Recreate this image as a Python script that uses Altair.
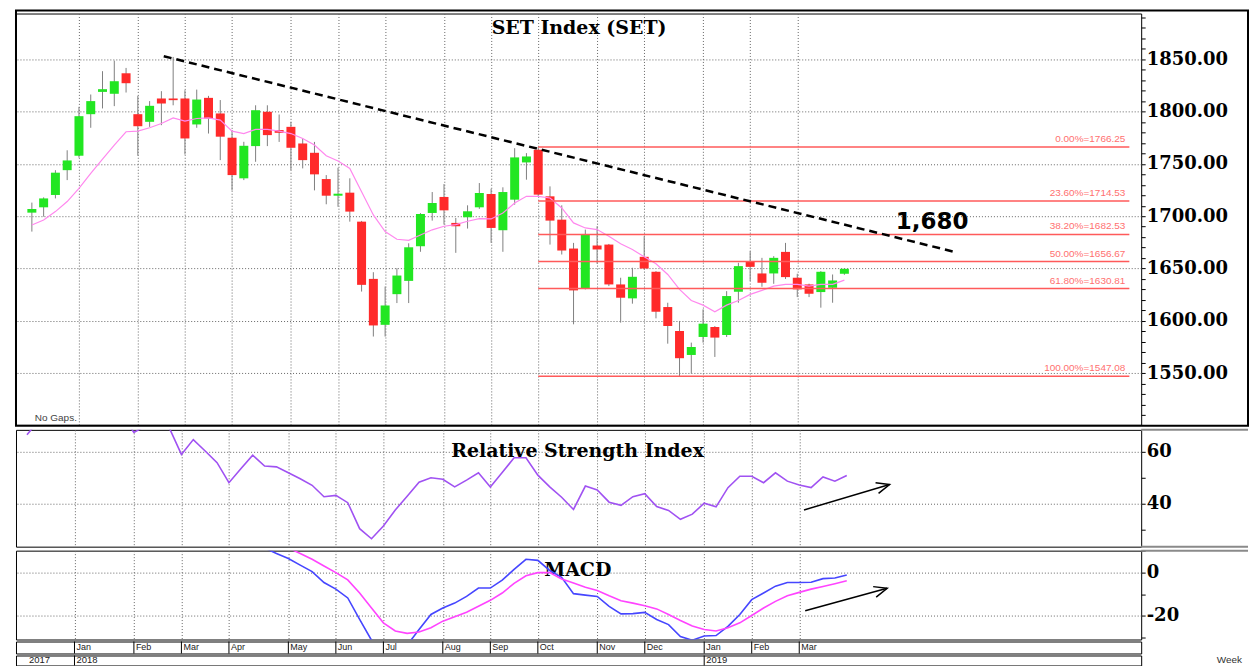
import altair as alt
import pandas as pd

# ---------------- data ----------------
weeks = list(range(1, 71))
opens = [1703.4, 1708.5, 1720.3, 1744.0, 1757.8, 1797.5, 1818.8, 1817.0, 1836.6, 1797.5,
         1790.2, 1812.5, 1812.5, 1812.5, 1787.7, 1813.1, 1798.2, 1775.0, 1736.2, 1767.0,
         1799.8, 1782.3, 1785.4, 1769.5, 1760.6, 1735.5, 1719.6, 1722.5, 1694.8, 1640.1,
         1596.2, 1625.5, 1638.2, 1671.3, 1703.1, 1718.4, 1693.6, 1699.0, 1708.5, 1721.2,
         1686.6, 1715.8, 1751.4, 1763.5, 1719.0, 1696.7, 1669.1, 1631.0, 1672.0, 1672.9,
         1634.8, 1621.5, 1661.2, 1646.9, 1613.2, 1590.3, 1567.4, 1584.6, 1594.1, 1586.5,
         1627.8, 1657.0, 1645.3, 1645.3, 1665.9, 1641.2, 1634.8, 1627.5, 1631.6, 1645.0]
highs = [1713.0, 1718.0, 1744.0, 1763.0, 1804.5, 1816.3, 1838.6, 1848.7, 1841.7, 1815.0,
         1810.0, 1819.5, 1852.2, 1820.4, 1821.0, 1815.0, 1811.0, 1782.3, 1771.1, 1806.0,
         1806.0, 1797.2, 1790.2, 1774.3, 1771.0, 1739.3, 1746.3, 1736.2, 1695.5, 1646.5,
         1632.8, 1650.3, 1674.1, 1703.0, 1723.1, 1730.7, 1698.3, 1710.4, 1731.7, 1726.3,
         1727.6, 1765.0, 1760.3, 1766.25, 1728.5, 1710.4, 1674.5, 1687.2, 1690.4, 1673.5,
         1641.2, 1650.7, 1680.9, 1647.5, 1617.3, 1599.9, 1579.2, 1611.0, 1595.0, 1628.4,
         1655.5, 1666.6, 1660.2, 1661.8, 1674.5, 1645.0, 1635.5, 1647.5, 1644.3, 1650.5]
lows = [1685.3, 1699.6, 1717.0, 1734.5, 1756.0, 1784.5, 1803.0, 1805.2, 1818.2, 1757.8,
        1785.4, 1787.0, 1806.0, 1759.0, 1784.5, 1779.0, 1753.6, 1724.7, 1734.5, 1752.0,
        1767.0, 1771.0, 1744.0, 1745.7, 1724.7, 1711.4, 1709.0, 1694.8, 1628.0, 1585.0,
        1585.0, 1617.0, 1617.0, 1666.0, 1695.8, 1692.0, 1665.0, 1688.2, 1707.0, 1674.5,
        1666.0, 1711.0, 1734.9, 1719.0, 1672.9, 1663.4, 1596.7, 1630.0, 1654.5, 1633.2,
        1598.3, 1616.4, 1649.0, 1602.4, 1578.2, 1547.08, 1549.6, 1579.2, 1565.5, 1584.6,
        1617.3, 1638.0, 1632.6, 1635.4, 1640.0, 1622.7, 1622.7, 1612.6, 1617.3, 1644.0]
closes = [1706.9, 1717.0, 1741.6, 1753.3, 1795.6, 1810.0, 1821.4, 1829.0, 1827.1, 1786.0,
          1805.5, 1807.7, 1810.9, 1774.3, 1811.5, 1793.4, 1776.0, 1739.3, 1767.3, 1801.3,
          1777.5, 1779.7, 1765.4, 1753.6, 1740.0, 1719.6, 1721.5, 1704.4, 1634.4, 1595.6,
          1614.7, 1643.3, 1670.3, 1702.1, 1712.6, 1705.6, 1690.4, 1704.7, 1722.2, 1688.8,
          1723.1, 1756.2, 1757.1, 1720.6, 1695.8, 1667.2, 1629.1, 1682.5, 1668.2, 1634.8,
          1622.1, 1642.1, 1650.0, 1608.7, 1595.1, 1564.3, 1575.0, 1597.3, 1584.0, 1623.7,
          1652.3, 1651.6, 1636.4, 1660.2, 1641.8, 1630.1, 1625.9, 1646.9, 1638.6, 1649.7]
moving_avg = [1691.6, 1696.4, 1704.4, 1714.0, 1726.6, 1741.0, 1754.6, 1768.0, 1780.7, 1781.3,
              1784.5, 1788.6, 1794.0, 1790.9, 1793.4, 1794.0, 1791.8, 1781.3, 1779.0, 1782.9,
              1782.9, 1781.3, 1779.0, 1774.3, 1768.0, 1757.8, 1752.7, 1745.7, 1723.4, 1701.2,
              1685.3, 1678.0, 1677.0, 1682.0, 1687.0, 1690.4, 1692.0, 1695.2, 1697.7, 1697.4,
              1703.0, 1712.6, 1719.0, 1719.0, 1717.4, 1707.9, 1693.6, 1688.8, 1687.2, 1680.9,
              1673.6, 1668.2, 1661.2, 1654.5, 1644.3, 1630.0, 1619.5, 1615.0, 1608.7, 1615.0,
              1619.5, 1625.3, 1629.1, 1633.2, 1634.8, 1634.8, 1633.2, 1634.8, 1634.8, 1638.9]
rsi = [66.6, 72.0, 76.0, 78.0, 82.0, 83.0, 83.0, 80.0, 74.0, 67.5,
       70.0, 71.0, 69.0, 59.0, 64.7, 60.3, 55.8, 48.1, 53.5, 58.7,
       54.5, 54.2, 51.9, 49.6, 47.1, 42.7, 43.2, 40.4, 30.4, 26.5,
       31.4, 37.6, 42.9, 48.3, 50.0, 49.4, 46.5, 49.1, 51.9, 46.4,
       52.0, 57.7, 57.7, 51.0, 46.5, 42.5, 37.8, 46.8, 45.3, 40.6,
       39.4, 42.7, 43.9, 38.9, 37.4, 34.0, 36.0, 40.2, 38.8, 46.2,
       50.6, 50.6, 48.1, 51.9, 48.7, 47.2, 46.2, 50.3, 48.7, 50.9]
macd = [None] * 20 + [
    11.5, 8.9, 6.6, 3.5, 0.5, -4.6, -7.7, -11.8, -21.8, -31.5,
    -34.0, -35.0, -33.8, -26.5, -19.5, -16.5, -14.2, -11.1, -7.2, -7.2,
    -3.5, 1.5, 6.2, 5.7, 1.0, -2.2, -9.8, -10.5, -11.1, -15.7,
    -19.2, -19.1, -18.5, -21.8, -24.2, -29.8, -31.5, -29.5, -29.3, -25.0,
    -19.5, -12.6, -9.5, -6.3, -4.6, -4.6, -4.5, -2.8, -2.5, -1.1]
signal = [None] * 22 + [
    11.5, 8.9, 6.2, 3.1, 0.0, -3.4, -9.5, -16.5,
    -23.4, -27.2, -28.3, -27.7, -25.7, -22.6, -20.6, -18.5, -15.7, -12.9,
    -9.5, -5.0, -1.5, 0.0, 0.0, -3.0, -4.8, -6.8, -8.3, -10.8,
    -13.1, -14.2, -15.4, -16.9, -19.5, -22.3, -24.9, -26.5, -27.2, -25.7,
    -23.4, -20.0, -16.5, -13.4, -10.8, -9.2, -7.7, -6.5, -5.2, -3.8]

month_pos = [5, 10, 14, 18, 23, 27, 31, 36, 40, 44, 49, 53, 58, 62, 66]
month_labels = ["Jan", "Feb", "Mar", "Apr", "May", "Jun", "Jul", "Aug",
                "Sep", "Oct", "Nov", "Dec", "Jan", "Feb", "Mar"]
year_sep = [5, 58]
year_pos = [1.0, 5, 58]
year_labels = ["2017", "2018", "2019"]

fib_pcts = [0.0, 23.6, 38.2, 50.0, 61.8, 100.0]
fib_values = [1766.25, 1714.53, 1682.53, 1656.67, 1630.81, 1547.08]
fib_start = 44
fib_end = 94.2
fib_label_x = 93.86

trend_x = [12.2, 79.5]
trend_y = [1852.9, 1665.5]

note_x, note_y, note_text = 77.45, 1694.7, "1,680"
title_x, title_y, title_text = 47.47, 1879.6, "SET  Index  (SET)"
gaps_x, gaps_y, gaps_text = 1.25, 1507.0, "No  Gaps."
rsi_title = (47.34, 60.4, "Relative  Strength  Index")
macd_title = (47.36, 1.4, "MACD")
rsi_arrow = (66.4, 37.6, 73.6, 47.4)
macd_arrow = (66.5, -17.8, 73.4, -7.3)
week_label = (102.2, "Week")

# ---------------- frames ----------------
df = pd.DataFrame({"week": weeks, "open": opens, "high": highs, "low": lows,
                   "close": closes, "ma": moving_avg, "rsi": rsi,
                   "macd": macd, "signal": signal})
df_fib = pd.DataFrame({"start": [fib_start] * len(fib_values),
                       "end": [fib_end] * len(fib_values),
                       "value": fib_values,
                       "lx": [fib_label_x] * len(fib_values),
                       "label": [f"{p:.2f}%={v:.2f}" for p, v in zip(fib_pcts, fib_values)]})
df_trend = pd.DataFrame({"tx1": [trend_x[0]], "tx2": [trend_x[1]],
                         "ty1": [trend_y[0]], "ty2": [trend_y[1]]})
one = pd.DataFrame({"k": [0]})

W = 1127
H_PRICE, H_RSI, H_MACD = 412, 117, 89
LABEL_COL = 107
SERIF = "DejaVu Serif"
xscale = alt.Scale(domain=[0.076, 94.78], nice=False, zero=False)
xgrid_axis = alt.Axis(values=month_pos, grid=True, gridDash=[1, 2], gridColor="#666",
                      gridWidth=1, ticks=False, labels=False, domain=False, title=None,
                      minExtent=0, maxExtent=0)


def X(field):
    return alt.X(field, type="quantitative", scale=xscale, axis=xgrid_axis)


def Xn(field):
    return alt.X(field, type="quantitative", scale=xscale, axis=None)


def make_y(domain, values, test, fmt):
    scale = alt.Scale(domain=domain, nice=False, zero=False)
    axis = alt.Axis(values=values, grid=True,
                    gridOpacity={"condition": {"test": test, "value": 1}, "value": 0},
                    labelFontSize={"condition": {"test": test, "value": 18}, "value": 0},
                    labelExpr=f"{test} ? {fmt} : ''",
                    labelFont=SERIF, labelFontWeight="bold", labelColor="black",
                    labelPadding=1, tickSize=4, tickColor="black", domain=False,
                    title=None, labelOverlap=False, orient="right",
                    gridDash=[1, 2], gridColor="#666", gridWidth=1)

    def Y(field):
        return alt.Y(field, type="quantitative", scale=scale, axis=axis)
    return Y


YP = make_y([1500.6, 1893.7], list(range(1510, 1900, 10)),
            "datum.value % 50 === 0", "format(datum.value, '.2f')")
YR = make_y([23.46, 68.46], [30, 40, 50, 60],
            "(datum.value === 40 || datum.value === 60)", "'' + datum.value")
YM = make_y([-31.16, 10.23], [-30, -20, -10, 0, 10],
            "(datum.value === 0 || datum.value === -20)", "'' + datum.value")

serif_title = dict(font=SERIF, fontWeight="bold", fontSize=19, color="black",
                   align="center", baseline="middle")


def separator(y_px):
    # grey divider running across the label column, like the source's panel dividers
    return alt.Chart(one).mark_rule(color="#8a8a8a", strokeWidth=2).encode(
        x=alt.value(W), x2=alt.value(W + LABEL_COL), y=alt.value(y_px))


# ---------------- price panel ----------------
base = alt.Chart(df)
frame = alt.Chart(one).mark_rect(fillOpacity=0, stroke="black", strokeWidth=2).encode(
    x=alt.value(0), x2=alt.value(W + LABEL_COL), y=alt.value(-3), y2=alt.value(H_PRICE + 1))
wicks = base.mark_rule(color="#808080", strokeWidth=1).encode(
    x=X("week"), y=YP("low"), y2=alt.Y2("high"))
bodies = base.mark_bar(size=9, strokeWidth=0).encode(
    x=X("week"), y=YP("open"), y2=alt.Y2("close"),
    color=alt.condition("datum.close >= datum.open", alt.value("#22e622"), alt.value("#ff2a2a")))
ma_line = base.mark_line(color="#ff88ee", strokeWidth=1.2).encode(x=X("week"), y=YP("ma"))
fib_lines = alt.Chart(df_fib).mark_rule(color="#ff5a5a", strokeWidth=1.5).encode(
    x=X("start"), x2=alt.X2("end"), y=YP("value"))
fib_text = alt.Chart(df_fib).mark_text(align="right", baseline="alphabetic", dy=-5,
                                       fontSize=10, font="Liberation Sans",
                                       color="#ff7070").encode(
    x=X("lx"), y=YP("value"), text="label:N")
trend = alt.Chart(df_trend).mark_rule(color="black", strokeWidth=2.5,
                                      strokeDash=[8, 5]).encode(
    x=X("tx1"), x2=alt.X2("tx2"), y=YP("ty1"), y2=alt.Y2("ty2"))
title_top = alt.Chart(pd.DataFrame({"x": [title_x], "y": [title_y], "t": [title_text]})).mark_text(
    **serif_title).encode(x=X("x"), y=YP("y"), text="t:N")
note = alt.Chart(pd.DataFrame({"x": [note_x], "y": [note_y], "t": [note_text]})).mark_text(
    font="DejaVu Sans", fontWeight="bold", fontSize=23, color="black",
    align="center", baseline="middle").encode(x=X("x"), y=YP("y"), text="t:N")
gaps = alt.Chart(pd.DataFrame({"x": [gaps_x], "y": [gaps_y], "t": [gaps_text]})).mark_text(
    font="Liberation Sans", fontSize=10, color="#444", align="left",
    baseline="middle").encode(x=X("x"), y=YP("y"), text="t:N")

price = alt.layer(wicks, bodies, ma_line, fib_lines, fib_text, trend, title_top, note,
                  gaps, frame).properties(width=W, height=H_PRICE)

# ---------------- RSI panel ----------------
arrow_shape = "M-1,-0.42L0,0L-1,0.42"


def arrow(a, Y):
    d = pd.DataFrame({"ax1": [a[0]], "ay1": [a[1]], "ax2": [a[2]], "ay2": [a[3]]})
    shaft = alt.Chart(d).mark_rule(color="black", strokeWidth=1.5).encode(
        x=X("ax1"), x2=alt.X2("ax2"), y=Y("ay1"), y2=alt.Y2("ay2"))
    head = alt.Chart(d).mark_point(shape=arrow_shape, filled=False, size=676,
                                   strokeWidth=1.5, color="black", opacity=1,
                                   angle=344).encode(x=X("ax2"), y=Y("ay2"))
    return shaft + head


rsi_text = alt.Chart(pd.DataFrame({"x": [rsi_title[0]], "y": [rsi_title[1]],
                                   "t": [rsi_title[2]]})).mark_text(**serif_title).encode(
    x=X("x"), y=YR("y"), text="t:N")
rsi_line = base.mark_line(color="#a052f2", strokeWidth=1.6, clip=True).encode(
    x=X("week"), y=YR("rsi"))
rsi_panel = alt.layer(rsi_text, rsi_line, arrow(rsi_arrow, YR), separator(0),
                      separator(H_RSI)).properties(width=W, height=H_RSI)

# ---------------- MACD panel ----------------
macd_text = alt.Chart(pd.DataFrame({"x": [macd_title[0]], "y": [macd_title[1]],
                                    "t": [macd_title[2]]})).mark_text(**serif_title).encode(
    x=X("x"), y=YM("y"), text="t:N")
macd_line = base.mark_line(color="#4646ff", strokeWidth=1.6, clip=True).encode(
    x=X("week"), y=YM("macd"))
signal_line = base.mark_line(color="#ff44ff", strokeWidth=1.6, clip=True).encode(
    x=X("week"), y=YM("signal"))
macd_panel = alt.layer(macd_text, macd_line, signal_line, arrow(macd_arrow, YM),
                       separator(0)).properties(width=W, height=H_MACD)

# ---------------- time rows ----------------
df_month = pd.DataFrame({"pos": month_pos, "label": month_labels})
month_row = alt.layer(
    alt.Chart(df_month).mark_rule(color="black", strokeWidth=1).encode(x=Xn("pos")),
    alt.Chart(df_month).mark_text(align="left", baseline="middle", dx=2, fontSize=9,
                                  font="Liberation Sans", color="#222").encode(
        x=Xn("pos"), text="label:N"),
).properties(width=W, height=12)

df_year = pd.DataFrame({"pos": year_pos, "label": year_labels})
df_sep = pd.DataFrame({"pos": year_sep})
df_week = pd.DataFrame({"pos": [week_label[0]], "label": [week_label[1]]})
year_row = alt.layer(
    alt.Chart(df_sep).mark_rule(color="black", strokeWidth=1).encode(x=Xn("pos")),
    alt.Chart(df_year).mark_text(align="left", baseline="middle", dx=2, fontSize=9.5,
                                 font="Liberation Sans", color="#222").encode(
        x=Xn("pos"), text="label:N"),
    alt.Chart(df_week).mark_text(align="center", baseline="middle", fontSize=10,
                                 font="Liberation Sans", color="#333").encode(
        x=Xn("pos"), text="label:N"),
).properties(width=W, height=10)

upper = alt.vconcat(price, rsi_panel, macd_panel, spacing=0)
lower = alt.vconcat(month_row, year_row, spacing=0)
chart = alt.vconcat(upper, lower, spacing=0).properties(
    padding={"left": 6, "top": 0, "right": 0, "bottom": 0},
    background="white",
).configure_view(stroke="black", strokeWidth=1)

chart.save("out.html", embed_options={"renderer": "svg", "actions": False})
